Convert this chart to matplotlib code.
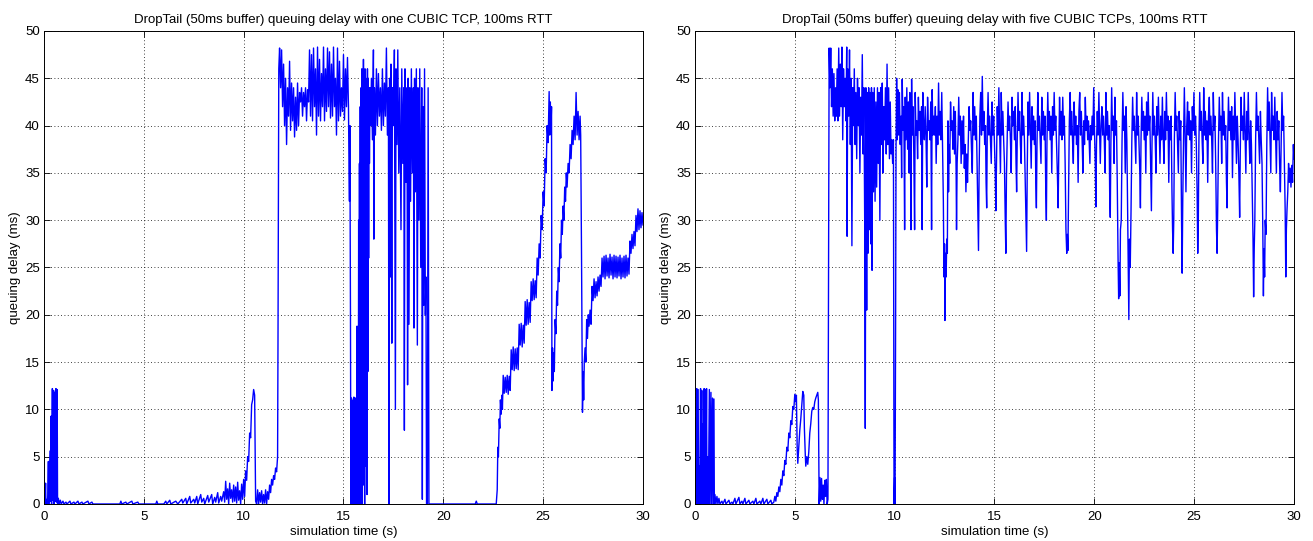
import numpy as np
import matplotlib
matplotlib.use('Agg')
import matplotlib.pyplot as plt

plt.rcParams['font.family'] = ['Liberation Sans', 'DejaVu Sans']
plt.rcParams['font.size'] = 9.5

# ---- queue trace, one CUBIC flow: (time s, delay ms) ----
one_quiet = [
    (0.00, 0), (0.05, 0.3), (0.08, 2.2), (0.10, 0), (0.15, 0.5), (0.18, 0), (0.22, 4.5), (0.24, 0),
    (0.30, 5.6), (0.32, 0.3), (0.36, 9.3), (0.38, 0), (0.42, 12.2), (0.44, 0.4), (0.48, 12.0), (0.50, 0),
    (0.54, 11.8), (0.56, 0.3), (0.60, 12.2), (0.62, 0.2), (0.66, 12.1), (0.68, 0), (0.72, 0.6), (0.76, 0),
    (0.82, 0.4), (0.86, 0), (0.95, 0.3), (1.00, 0), (1.10, 0.2), (1.15, 0), (1.30, 0.3), (1.35, 0),
    (1.50, 0.2), (1.55, 0), (1.70, 0.3), (1.75, 0), (1.90, 0.2), (1.95, 0), (2.20, 0.3), (2.25, 0),
    (2.40, 0.2), (2.45, 0), (3.80, 0), (3.85, 0.3), (3.90, 0), (4.10, 0.2), (4.15, 0), (4.40, 0.3),
    (4.45, 0), (4.70, 0.2), (4.75, 0), (5.60, 0), (5.65, 0.3), (5.70, 0), (6.00, 0), (6.10, 0.3),
    (6.15, 0), (6.30, 0.4), (6.35, 0), (6.60, 0.3), (6.70, 0), (6.90, 0.5), (6.95, 0.1), (7.10, 0.6),
    (7.15, 0), (7.30, 0.8), (7.35, 0.1), (7.50, 0.5), (7.55, 0.1), (7.65, 0.8), (7.70, 0), (7.85, 1.0),
    (7.90, 0.2), (8.00, 0.6), (8.05, 0), (8.20, 0.9), (8.25, 0.2), (8.40, 1.0), (8.45, 0), (8.55, 0.7),
    (8.60, 0.2), (8.70, 1.2), (8.75, 0.1), (8.85, 0.8), (8.90, 0.3), (9.00, 1.3), (9.05, 0.2), (9.10, 2.4),
    (9.15, 0.5), (9.20, 1.6), (9.25, 0), (9.30, 2.2), (9.35, 0.6), (9.40, 1.5), (9.45, 0.2), (9.50, 2.0),
    (9.55, 0.3), (9.60, 1.8), (9.65, 0.1), (9.70, 2.3), (9.75, 0.4), (9.80, 1.4), (9.85, 0), (9.90, 2.1),
    (9.95, 0.5), (10.00, 2.6), (10.05, 0.8), (10.10, 3.5), (10.15, 2.5), (10.20, 5.0), (10.25, 4.5),
    (10.30, 7.5), (10.35, 7.0), (10.40, 10.5), (10.45, 11.0), (10.50, 12.1), (10.55, 11.5), (10.60, 0.3),
    (10.65, 0), (10.70, 1.5), (10.75, 0), (10.80, 1.2), (10.85, 0.2), (10.90, 1.4), (10.95, 0),
    (11.00, 1.0), (11.05, 0.1), (11.10, 1.5), (11.15, 0), (11.20, 1.3), (11.25, 0.5), (11.30, 2.0),
    (11.35, 1.2), (11.40, 2.6), (11.45, 2.0), (11.50, 3.0), (11.55, 2.6), (11.60, 3.8), (11.65, 3.4),
    (11.70, 5.0), (11.72, 17.0), (11.76, 46.0),
]
one_full = [
    (11.80, 48.2), (11.85, 44.0), (11.90, 48.0), (11.95, 42.0), (12.00, 46.5), (12.05, 40.0),
    (12.10, 45.0), (12.15, 38.0), (12.20, 44.0), (12.25, 41.0), (12.30, 46.8), (12.35, 39.5),
    (12.40, 44.5), (12.45, 40.5), (12.50, 44.0), (12.55, 38.8), (12.60, 43.0), (12.65, 39.5),
    (12.70, 44.5), (12.75, 40.0), (12.80, 43.5), (12.85, 42.5), (12.90, 44.0), (12.95, 41.0),
    (13.00, 43.5), (13.05, 42.0), (13.10, 44.0), (13.15, 40.5), (13.20, 43.8), (13.25, 42.5),
    (13.30, 48.0), (13.35, 41.0), (13.40, 47.5), (13.45, 40.5), (13.50, 48.2), (13.55, 42.0),
    (13.60, 46.0), (13.65, 39.0), (13.70, 48.3), (13.75, 41.0), (13.80, 47.0), (13.85, 40.5),
    (13.90, 45.5), (13.95, 42.0), (14.00, 48.3), (14.05, 40.5), (14.10, 46.0), (14.15, 41.5),
    (14.20, 48.2), (14.25, 42.0), (14.30, 47.8), (14.35, 40.8), (14.40, 46.5), (14.45, 41.0),
    (14.50, 48.3), (14.55, 42.0), (14.60, 45.0), (14.65, 39.0), (14.70, 48.2), (14.75, 40.5),
    (14.80, 46.8), (14.85, 41.0), (14.90, 44.0), (14.95, 41.5), (15.00, 47.5), (15.05, 40.6),
    (15.10, 46.0), (15.15, 42.0), (15.20, 47.2), (15.25, 42.0), (15.28, 35.0), (15.30, 32.0),
    (15.32, 40.0), (15.35, 20.0), (15.37, 0.0),
]
one_unstable = [
    (15.40, 11.2), (15.42, 0), (15.44, 10.8), (15.46, 0.5), (15.48, 11.0), (15.50, 0), (15.52, 11.3),
    (15.54, 1.0), (15.56, 10.5), (15.58, 0), (15.60, 11.2), (15.62, 0), (15.64, 10.9), (15.66, 0.3),
    (15.68, 18.8), (15.70, 0), (15.72, 12.0), (15.74, 0), (15.76, 30.0), (15.78, 0), (15.80, 36.0),
    (15.82, 2.0), (15.84, 42.0), (15.86, 0), (15.88, 44.0), (15.90, 5.0), (15.92, 46.0), (15.94, 0),
    (15.96, 45.0), (15.98, 3.0), (16.00, 47.0), (16.02, 2.0), (16.04, 44.0), (16.06, 0), (16.08, 46.0),
    (16.10, 4.0), (16.12, 45.0), (16.14, 8.0), (16.16, 44.0), (16.18, 1.0), (16.20, 46.0), (16.22, 14.0),
    (16.24, 45.0), (16.26, 26.0), (16.28, 44.0), (16.30, 36.0),
    (16.33, 44.0), (16.36, 40.0), (16.40, 45.0), (16.45, 38.5), (16.50, 48.0), (16.52, 28.0),
    (16.55, 44.0), (16.60, 39.0), (16.65, 46.0), (16.70, 40.0), (16.75, 45.5), (16.80, 41.0),
    (16.85, 44.0), (16.90, 39.5), (16.95, 46.0), (17.00, 40.0), (17.05, 44.5), (17.10, 41.0),
    (17.15, 48.2), (17.20, 39.0), (17.25, 44.0), (17.28, 0), (17.31, 45.0), (17.35, 24.0),
    (17.38, 46.5), (17.42, 17.0), (17.45, 44.0), (17.50, 40.0), (17.55, 48.0), (17.60, 10.0),
    (17.63, 46.0), (17.68, 38.0), (17.72, 48.0), (17.77, 35.0), (17.82, 44.0), (17.88, 29.0),
    (17.92, 46.0), (17.97, 36.0), (18.02, 44.0), (18.05, 7.8), (18.08, 46.0), (18.13, 34.0),
    (18.18, 44.0), (18.21, 12.6), (18.24, 45.0), (18.28, 19.0), (18.32, 44.0), (18.36, 32.0),
    (18.40, 46.0), (18.45, 35.0), (18.50, 44.0), (18.53, 18.6), (18.56, 45.0), (18.60, 33.0),
    (18.65, 46.0), (18.70, 16.8), (18.73, 44.0), (18.78, 30.0), (18.82, 46.0), (18.87, 25.0),
    (18.92, 44.0), (18.95, 0.5), (18.98, 42.0), (19.02, 21.0), (19.06, 46.0), (19.10, 20.0),
    (19.13, 24.0), (19.16, 0), (19.20, 0), (19.24, 44.0), (19.28, 0), (19.35, 0), (21.60, 0),
    (21.65, 0.3), (21.70, 0), (22.65, 0),
]
one_regrowth = [
    (22.70, 1.5), (22.73, 6.0), (22.76, 5.0), (22.80, 9.0), (22.83, 8.0), (22.86, 11.0), (22.90, 9.5),
    (22.93, 11.5), (22.96, 10.0), (23.00, 13.6), (23.05, 11.7), (23.10, 13.4), (23.15, 11.8),
    (23.20, 13.6), (23.25, 11.6), (23.30, 13.5), (23.35, 12.0), (23.40, 16.3), (23.45, 14.2),
    (23.50, 16.6), (23.55, 14.1), (23.60, 16.4), (23.65, 14.3), (23.70, 16.5), (23.75, 14.2),
    (23.80, 19.0), (23.85, 16.8), (23.90, 19.1), (23.95, 16.6), (24.00, 18.9), (24.05, 17.0),
    (24.10, 21.4), (24.15, 18.9), (24.20, 21.6), (24.25, 19.0), (24.30, 21.3), (24.35, 19.2),
    (24.40, 23.5), (24.45, 21.5), (24.50, 23.8), (24.55, 21.6), (24.60, 23.6), (24.65, 21.8),
    (24.70, 26.0), (24.75, 24.2), (24.80, 27.5), (24.85, 26.0), (24.90, 30.5), (24.95, 29.0),
    (25.00, 33.0), (25.05, 31.5), (25.10, 36.5), (25.15, 35.0), (25.20, 40.0), (25.25, 38.2),
    (25.30, 43.6), (25.33, 39.0), (25.36, 42.5), (25.39, 39.5), (25.42, 42.0), (25.44, 12.0),
    (25.47, 16.5), (25.50, 13.0), (25.53, 16.0), (25.56, 14.0), (25.60, 19.5), (25.64, 18.0),
    (25.68, 22.5), (25.72, 21.0), (25.76, 25.0), (25.80, 23.5), (25.84, 27.5), (25.88, 26.0),
    (25.92, 30.0), (25.96, 28.5), (26.00, 31.5), (26.04, 30.0), (26.08, 33.5), (26.12, 32.0),
    (26.16, 35.0), (26.20, 33.5), (26.25, 36.0), (26.30, 35.0), (26.35, 38.0), (26.40, 36.5),
    (26.45, 39.5), (26.50, 38.0), (26.55, 41.0), (26.60, 38.5), (26.65, 43.5), (26.70, 39.0),
    (26.75, 41.5), (26.80, 38.5), (26.85, 41.0), (26.88, 39.0), (26.92, 27.0), (26.97, 9.7),
    (27.00, 14.0), (27.03, 11.0), (27.06, 15.0), (27.10, 16.5), (27.14, 15.0), (27.18, 19.5),
    (27.22, 17.5), (27.26, 20.0), (27.30, 18.8), (27.35, 20.5), (27.40, 19.0), (27.45, 23.0),
    (27.50, 21.5), (27.55, 23.8), (27.60, 21.8), (27.65, 23.5), (27.70, 22.0), (27.75, 24.0),
    (27.80, 22.5), (27.85, 24.2), (27.90, 23.0), (27.95, 26.0), (28.00, 24.0), (28.05, 26.2),
    (28.10, 23.8), (28.15, 26.3), (28.20, 24.1), (28.25, 26.0), (28.30, 23.9), (28.35, 26.4),
    (28.40, 24.2), (28.45, 26.1), (28.50, 23.8), (28.55, 26.3), (28.60, 24.0), (28.65, 26.2),
    (28.70, 23.9), (28.75, 26.1), (28.80, 24.1), (28.85, 26.3), (28.90, 23.8), (28.95, 26.0),
    (29.00, 24.0), (29.05, 26.2), (29.10, 23.9), (29.15, 26.3), (29.20, 24.1), (29.25, 26.0),
    (29.30, 24.3), (29.35, 27.8), (29.40, 26.5), (29.45, 28.5), (29.50, 27.0), (29.55, 28.8),
    (29.60, 27.3), (29.65, 30.5), (29.70, 28.8), (29.75, 31.2), (29.80, 29.0), (29.85, 31.0),
    (29.90, 29.2), (29.95, 30.8), (30.00, 29.5),
]

# ---- queue trace, five CUBIC flows ----
five_startup = [
    (0.00, 0), (0.03, 9.0), (0.05, 0), (0.09, 12.2), (0.11, 0), (0.16, 12.1), (0.18, 0), (0.22, 4.0),
    (0.24, 0), (0.28, 12.2), (0.30, 0), (0.34, 12.0), (0.36, 0), (0.40, 8.5), (0.42, 0), (0.46, 12.2),
    (0.48, 0), (0.52, 12.1), (0.54, 0), (0.58, 12.2), (0.60, 0), (0.65, 5.0), (0.67, 0), (0.72, 12.1),
    (0.74, 0), (0.80, 11.8), (0.82, 0), (0.88, 11.2), (0.90, 0), (0.95, 11.1), (0.97, 0),
    (1.00, 1.0), (1.05, 0), (1.10, 0.8), (1.15, 0), (1.20, 0.6), (1.25, 0), (1.35, 0.3),
    (1.40, 0), (1.50, 0.5), (1.55, 0), (1.70, 0.4), (1.75, 0), (1.85, 0.2), (1.90, 0), (2.00, 0.6),
    (2.05, 0), (2.20, 0.7), (2.25, 0), (2.35, 0.3), (2.40, 0), (2.50, 0.6), (2.55, 0), (2.70, 0.4),
    (2.75, 0), (2.90, 0.3), (2.95, 0), (3.05, 0.6), (3.10, 0), (3.25, 0.3), (3.30, 0), (3.40, 0.6),
    (3.45, 0), (3.60, 0.5), (3.65, 0), (3.80, 0.4), (3.85, 0), (3.95, 0.2), (4.00, 0.8), (4.05, 0.3),
    (4.10, 1.2), (4.15, 0.8), (4.20, 1.8), (4.25, 1.3), (4.30, 2.6), (4.35, 2.0), (4.40, 3.5),
    (4.45, 3.0), (4.50, 4.6), (4.55, 4.2), (4.60, 6.0), (4.65, 5.6), (4.70, 7.5), (4.75, 7.0),
    (4.80, 8.8), (4.85, 8.4), (4.90, 10.3), (4.95, 10.0), (5.00, 11.6), (5.05, 10.8), (5.08, 11.5),
    (5.12, 5.8), (5.15, 4.3), (5.20, 6.0), (5.25, 7.8), (5.30, 9.0), (5.35, 10.5), (5.40, 11.9),
    (5.45, 11.5), (5.48, 8.0), (5.52, 5.5), (5.55, 4.0), (5.60, 5.0), (5.65, 4.2), (5.70, 5.5),
    (5.75, 7.5), (5.80, 8.5), (5.85, 9.8), (5.90, 10.2), (5.95, 10.0), (6.00, 10.8), (6.05, 11.2),
    (6.10, 11.5), (6.15, 11.8), (6.18, 11.0), (6.22, 0), (6.26, 2.8), (6.30, 0.3), (6.34, 2.7),
    (6.38, 0.5), (6.42, 2.0), (6.46, 0), (6.50, 2.5), (6.54, 0.8), (6.58, 2.6), (6.62, 0), (6.66, 0.5),
    (6.70, 31.0), (6.72, 48.2),
]
five_overshoot = [
    (6.76, 44.0), (6.80, 48.2), (6.84, 42.0), (6.88, 46.0), (6.92, 41.0), (6.96, 45.5), (7.00, 40.5),
    (7.04, 44.0), (7.08, 41.0), (7.12, 46.0), (7.16, 40.5), (7.20, 48.2), (7.24, 41.0), (7.28, 46.5),
    (7.32, 42.0), (7.36, 48.3), (7.40, 38.5), (7.44, 46.0), (7.48, 42.0), (7.52, 45.0), (7.56, 40.5),
    (7.60, 48.3), (7.62, 28.3), (7.65, 46.0), (7.70, 41.0), (7.74, 48.0), (7.78, 38.0), (7.82, 45.0),
    (7.86, 27.3), (7.90, 44.0), (7.94, 40.0), (7.98, 46.0), (8.02, 38.0), (8.06, 43.5), (8.10, 36.5),
    (8.14, 45.0), (8.18, 40.0), (8.22, 44.0), (8.26, 35.0), (8.30, 43.0), (8.34, 39.0), (8.38, 47.5),
    (8.42, 37.0), (8.46, 44.0), (8.50, 30.0), (8.53, 8.0), (8.56, 44.0), (8.60, 20.5), (8.63, 43.5),
    (8.66, 26.5), (8.70, 44.0), (8.73, 29.0), (8.76, 43.5), (8.80, 27.5), (8.84, 44.0), (8.87, 24.7),
    (8.90, 43.5), (8.94, 33.0), (8.98, 44.0), (9.02, 32.0), (9.06, 42.5), (9.10, 33.5), (9.14, 44.0),
    (9.18, 36.0), (9.22, 43.5), (9.26, 30.0), (9.30, 44.0), (9.34, 38.0), (9.38, 44.5), (9.42, 35.0),
    (9.46, 42.0), (9.50, 38.5), (9.54, 44.0), (9.58, 37.0), (9.62, 46.5), (9.66, 38.0), (9.70, 44.0),
    (9.74, 36.5), (9.78, 42.5), (9.82, 37.0), (9.86, 38.5), (9.90, 36.0), (9.94, 38.5), (9.97, 0),
    (10.00, 2.8), (10.02, 0), (10.05, 20.0), (10.07, 37.5),
]
five_steady_a = [
    (10.10, 45.0), (10.13, 38.5), (10.16, 43.8), (10.20, 39.0), (10.24, 43.5), (10.28, 38.0),
    (10.32, 41.0), (10.35, 34.5), (10.38, 44.9), (10.42, 39.5), (10.46, 42.0), (10.50, 29.0),
    (10.53, 43.0), (10.57, 38.5), (10.61, 44.0), (10.65, 37.5), (10.69, 42.5), (10.72, 35.0),
    (10.76, 43.5), (10.79, 38.0), (10.82, 29.0), (10.85, 44.9), (10.88, 39.0), (10.92, 42.0),
    (10.96, 37.0), (11.00, 29.0), (11.03, 43.5), (11.07, 39.0), (11.11, 40.5), (11.15, 36.5),
    (11.19, 43.0), (11.23, 39.5), (11.27, 41.5), (11.31, 38.0), (11.35, 42.0), (11.38, 29.0),
    (11.41, 43.5), (11.45, 40.0), (11.49, 38.5), (11.53, 42.0), (11.57, 39.0), (11.61, 33.5),
    (11.65, 43.0), (11.69, 39.5), (11.73, 40.5), (11.77, 38.5), (11.81, 42.5), (11.85, 29.0),
    (11.88, 43.8), (11.92, 39.0), (11.96, 41.0), (12.00, 39.0), (12.04, 42.0), (12.08, 36.0),
    (12.12, 41.0), (12.16, 38.0), (12.20, 44.5), (12.24, 39.0), (12.28, 41.5), (12.32, 38.5),
    (12.36, 43.5), (12.40, 38.0), (12.44, 32.0), (12.47, 24.0), (12.50, 27.5), (12.52, 19.4),
    (12.55, 26.5), (12.58, 24.0), (12.61, 28.0), (12.64, 26.5), (12.67, 40.5), (12.70, 33.0),
    (12.73, 38.0), (12.76, 36.0), (12.80, 42.5), (12.84, 39.5), (12.88, 40.5), (12.92, 37.5),
    (12.96, 42.0), (13.00, 37.0), (13.04, 41.5), (13.08, 35.0), (13.10, 29.0), (13.13, 36.0),
    (13.17, 38.5), (13.21, 43.0), (13.25, 39.0), (13.29, 41.0), (13.33, 36.0), (13.37, 40.5),
    (13.41, 37.0), (13.45, 41.0), (13.49, 35.5), (13.53, 38.0), (13.57, 33.0), (13.61, 37.0),
    (13.65, 34.0), (13.69, 38.5), (13.73, 42.0), (13.77, 39.5), (13.81, 40.5), (13.85, 37.5),
    (13.89, 35.0), (13.93, 43.5), (13.97, 39.0), (14.01, 42.0), (14.05, 38.5), (14.09, 41.0),
    (14.13, 36.0), (14.17, 31.0), (14.20, 26.8), (14.23, 35.0), (14.27, 41.0), (14.31, 43.5),
    (14.35, 39.0), (14.39, 45.2), (14.43, 39.5), (14.47, 41.5), (14.51, 38.0), (14.55, 40.0),
    (14.58, 34.0), (14.61, 31.3), (14.64, 39.5), (14.68, 43.5), (14.72, 39.0), (14.76, 41.0),
    (14.80, 38.5), (14.84, 36.0), (14.88, 42.5), (14.92, 39.0), (14.96, 41.0), (15.00, 38.0),
    (15.04, 35.0), (15.07, 31.0), (15.10, 36.0), (15.14, 42.0), (15.18, 39.0), (15.22, 44.0),
    (15.26, 39.5), (15.30, 35.0), (15.34, 43.5), (15.38, 39.0), (15.42, 41.5), (15.46, 38.5),
    (15.50, 36.0), (15.54, 30.0), (15.57, 26.5), (15.60, 34.5), (15.64, 39.0), (15.68, 42.5),
    (15.72, 39.5), (15.76, 41.0), (15.80, 38.5), (15.84, 35.0), (15.88, 43.0), (15.92, 40.0),
    (15.96, 41.5), (16.00, 38.5), (16.04, 42.0), (16.08, 36.0), (16.11, 33.0), (16.14, 38.5),
    (16.18, 43.5), (16.22, 39.5), (16.26, 41.5), (16.30, 38.0), (16.34, 36.0), (16.38, 43.5),
    (16.42, 39.0), (16.46, 41.0), (16.50, 38.5), (16.54, 34.0), (16.58, 29.0), (16.61, 26.7),
    (16.64, 35.0), (16.68, 42.5), (16.72, 39.0), (16.76, 43.5), (16.80, 39.5), (16.84, 35.5),
    (16.88, 42.0), (16.92, 38.5), (16.96, 41.0), (17.00, 38.0), (17.04, 40.5), (17.07, 34.0),
    (17.10, 31.3), (17.13, 38.0), (17.17, 43.5), (17.21, 39.5), (17.25, 41.0), (17.29, 38.5),
    (17.33, 36.0), (17.37, 43.0), (17.41, 39.0), (17.45, 41.5), (17.49, 38.5), (17.53, 41.0),
    (17.57, 33.0), (17.60, 30.0), (17.63, 38.5), (17.67, 43.5), (17.71, 39.5), (17.75, 41.5),
    (17.79, 38.5), (17.83, 41.0), (17.87, 35.0), (17.91, 42.0), (17.95, 39.0), (17.99, 43.5),
    (18.03, 39.5), (18.07, 41.0), (18.11, 38.0), (18.15, 35.0), (18.19, 31.3), (18.22, 37.0),
    (18.26, 43.0), (18.30, 39.0), (18.34, 41.5), (18.38, 38.5), (18.42, 43.0), (18.46, 39.0),
    (18.50, 41.0), (18.54, 36.0), (18.58, 29.0), (18.62, 26.5), (18.65, 28.5), (18.68, 26.8),
    (18.71, 33.0), (18.75, 40.5), (18.79, 43.5), (18.83, 39.0), (18.87, 41.5), (18.91, 38.5),
    (18.95, 36.0), (18.99, 42.5), (19.03, 39.0), (19.07, 41.0), (19.11, 38.0), (19.15, 40.0),
    (19.19, 34.0), (19.23, 41.5), (19.27, 43.5), (19.31, 39.0), (19.35, 41.5), (19.39, 38.5),
    (19.43, 35.0), (19.47, 40.5), (19.51, 38.0), (19.55, 43.0), (19.59, 39.5), (19.63, 41.0),
    (19.67, 38.5), (19.71, 40.5), (19.75, 38.0), (19.78, 36.0), (19.81, 40.0), (19.85, 38.5),
    (19.89, 41.0), (19.93, 39.0), (19.97, 44.0),
]
five_steady_b = [
    (20.01, 39.5), (20.05, 36.0), (20.08, 31.4), (20.11, 38.0), (20.15, 41.5), (20.19, 39.0),
    (20.23, 43.5), (20.27, 39.5), (20.30, 36.0), (20.34, 40.0), (20.38, 42.0), (20.42, 39.0),
    (20.46, 41.0), (20.50, 38.5), (20.54, 35.0), (20.58, 43.5), (20.62, 39.0), (20.66, 41.5),
    (20.70, 38.5), (20.74, 40.0), (20.77, 33.0), (20.80, 30.3), (20.83, 38.0), (20.87, 44.0),
    (20.91, 39.5), (20.95, 41.0), (20.99, 36.0), (21.03, 43.0), (21.07, 39.0), (21.11, 40.5),
    (21.15, 34.0), (21.19, 26.0), (21.22, 21.7), (21.25, 25.5), (21.28, 22.0), (21.31, 29.0),
    (21.35, 30.0), (21.39, 38.5), (21.43, 43.5), (21.47, 39.5), (21.51, 41.0), (21.55, 35.0),
    (21.59, 42.0), (21.63, 38.5), (21.67, 31.0), (21.70, 26.0), (21.73, 19.5), (21.76, 28.0),
    (21.80, 25.0), (21.84, 31.0), (21.88, 38.5), (21.92, 43.0), (21.96, 39.5), (22.00, 41.0),
    (22.04, 38.5), (22.08, 36.0), (22.12, 43.5), (22.16, 39.0), (22.20, 41.0), (22.24, 38.0),
    (22.28, 35.0), (22.31, 31.3), (22.34, 38.5), (22.38, 43.0), (22.42, 39.5), (22.46, 41.5),
    (22.50, 38.5), (22.54, 41.0), (22.58, 35.0), (22.62, 42.5), (22.66, 39.0), (22.70, 43.5),
    (22.74, 39.5), (22.78, 41.0), (22.82, 36.0), (22.86, 31.0), (22.89, 38.0), (22.93, 43.5),
    (22.97, 39.0), (23.01, 41.0), (23.05, 38.5), (23.09, 35.0), (23.13, 42.0), (23.17, 39.0),
    (23.21, 43.0), (23.25, 39.5), (23.29, 36.0), (23.33, 41.0), (23.37, 38.5), (23.41, 43.0),
    (23.45, 39.0), (23.49, 36.0), (23.53, 41.5), (23.57, 38.5), (23.61, 43.5), (23.65, 39.5),
    (23.69, 41.0), (23.73, 34.0), (23.77, 40.5), (23.81, 38.5), (23.85, 41.0), (23.89, 33.0),
    (23.92, 29.0), (23.95, 26.5), (23.98, 30.0), (24.01, 38.5), (24.05, 43.5), (24.09, 39.5),
    (24.13, 41.0), (24.17, 38.0), (24.21, 35.0), (24.25, 41.5), (24.29, 38.5), (24.33, 40.5),
    (24.37, 30.0), (24.40, 24.4), (24.43, 32.0), (24.47, 38.5), (24.51, 44.0), (24.55, 39.0),
    (24.59, 33.0), (24.63, 40.0), (24.67, 42.5), (24.71, 39.0), (24.75, 41.5), (24.79, 38.5),
    (24.83, 40.5), (24.87, 35.0), (24.91, 42.0), (24.95, 39.5), (24.99, 43.5), (25.03, 39.0),
    (25.07, 41.0), (25.11, 38.0), (25.15, 33.0), (25.18, 26.5), (25.21, 30.0), (25.24, 38.5),
    (25.28, 43.5), (25.32, 39.5), (25.36, 41.5), (25.40, 38.5), (25.44, 36.0), (25.48, 44.0),
    (25.52, 39.0), (25.56, 41.5), (25.60, 38.5), (25.64, 40.5), (25.68, 34.0), (25.72, 41.0),
    (25.76, 43.0), (25.80, 39.0), (25.84, 41.0), (25.88, 38.5), (25.92, 35.0), (25.96, 43.5),
    (26.00, 39.5), (26.04, 41.0), (26.08, 36.0), (26.12, 29.0), (26.15, 26.5), (26.18, 31.0),
    (26.22, 38.5), (26.26, 43.0), (26.30, 39.5), (26.34, 41.0), (26.38, 36.0), (26.42, 43.5),
    (26.46, 39.0), (26.50, 41.5), (26.54, 38.5), (26.58, 40.0), (26.62, 34.0), (26.65, 31.3),
    (26.68, 38.5), (26.72, 43.0), (26.76, 39.5), (26.80, 41.5), (26.84, 38.5), (26.88, 42.0),
    (26.92, 34.5), (26.96, 41.0), (27.00, 38.5), (27.04, 43.5), (27.08, 39.5), (27.12, 36.0),
    (27.16, 41.0), (27.20, 38.5), (27.24, 35.0), (27.28, 30.3), (27.31, 37.0), (27.35, 43.0),
    (27.39, 39.5), (27.43, 41.0), (27.47, 38.5), (27.51, 43.5), (27.55, 39.0), (27.59, 35.0),
    (27.63, 41.5), (27.67, 38.5), (27.71, 43.5), (27.75, 39.0), (27.79, 36.0), (27.83, 40.5),
    (27.87, 38.0), (27.91, 33.0), (27.95, 28.0), (27.98, 21.9), (28.01, 27.0), (28.04, 30.0),
    (28.08, 38.5), (28.12, 43.5), (28.16, 39.5), (28.20, 41.0), (28.24, 38.5), (28.28, 36.0),
    (28.32, 41.5), (28.36, 38.5), (28.40, 36.0), (28.44, 29.0), (28.47, 22.0), (28.50, 27.0),
    (28.53, 24.0), (28.56, 30.0), (28.60, 28.5), (28.64, 38.0), (28.68, 44.0), (28.72, 39.5),
    (28.76, 42.5), (28.80, 38.5), (28.84, 35.0), (28.88, 43.5), (28.92, 39.5), (28.96, 41.0),
    (29.00, 38.5), (29.04, 43.0), (29.08, 39.0), (29.12, 35.0), (29.16, 41.5), (29.20, 38.5),
    (29.24, 40.5), (29.28, 36.0), (29.32, 33.0), (29.36, 38.5), (29.40, 43.5), (29.44, 39.5),
    (29.48, 41.0), (29.52, 36.0), (29.56, 31.0), (29.59, 24.0), (29.62, 29.0), (29.65, 31.0),
    (29.69, 33.0), (29.73, 36.0), (29.77, 34.0), (29.81, 35.5), (29.85, 33.5), (29.89, 35.8),
    (29.93, 34.0), (29.97, 38.0), (30.00, 36.5),
]

titles = ['DropTail (50ms buffer) queuing delay with one CUBIC TCP, 100ms RTT',
          'DropTail (50ms buffer) queuing delay with five CUBIC TCPs, 100ms RTT']

one_trace = np.array(one_quiet + one_full + one_unstable + one_regrowth)
five_trace = np.array(five_startup + five_overshoot + five_steady_a + five_steady_b)

fig = plt.figure(figsize=(13.13, 5.41), dpi=100)
ax1 = fig.add_axes([0.0335, 0.0684, 0.4562, 0.8743])
ax2 = fig.add_axes([0.5293, 0.0684, 0.4562, 0.8743])

for ax, trace, title in [(ax1, one_trace, titles[0]), (ax2, five_trace, titles[1])]:
    ax.plot(trace[:, 0], trace[:, 1], color='b', lw=1.0)
    ax.set_xlim(0, 30)
    ax.set_ylim(0, 50)
    ax.set_xticks(np.arange(0, 31, 5))
    ax.set_yticks(np.arange(0, 51, 5))
    ax.grid(True, color='k', linestyle=(0, (1, 3)), linewidth=0.6)
    ax.tick_params(direction='in', length=4, width=0.6, top=True, right=True,
                   labelsize=9.5, pad=3)
    ax.tick_params(axis='x', pad=5)
    for sp in ax.spines.values():
        sp.set_linewidth(0.7)
    ax.set_title(title, fontsize=9.5, pad=6)
    ax.set_xlabel('simulation time (s)', fontsize=9.5, labelpad=2)
    ax.set_ylabel('queuing delay (ms)', fontsize=9.5, labelpad=3)

fig.savefig('out.png', dpi=100)
